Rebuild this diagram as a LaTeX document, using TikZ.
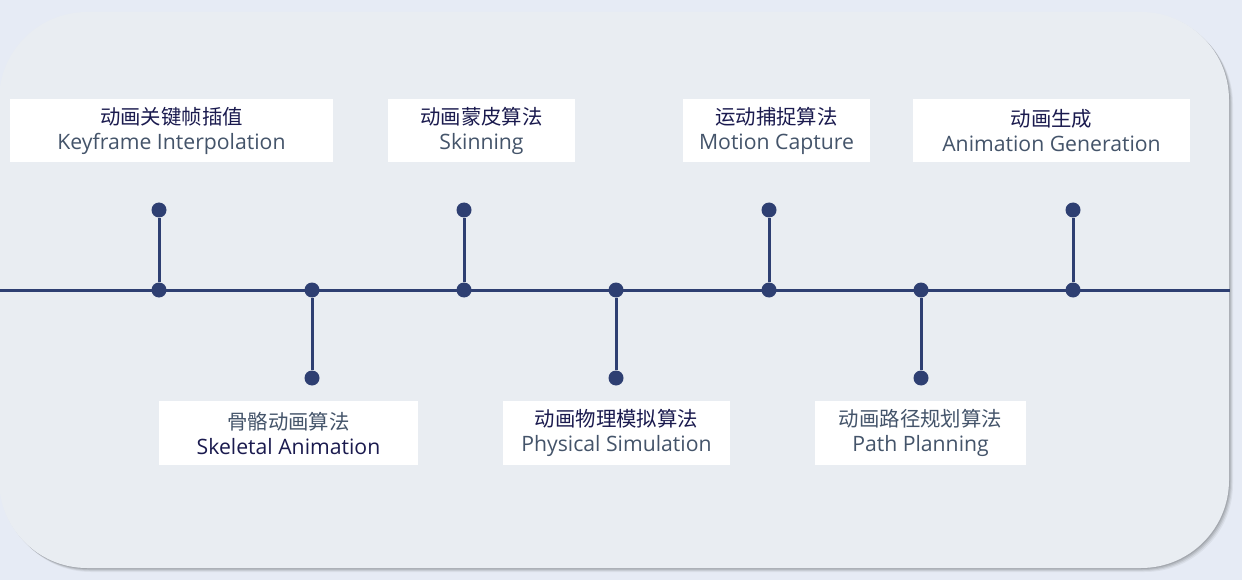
\documentclass[tikz,border=0pt]{standalone}
\usepackage{fontspec}
\setmainfont{Open Sans}
\newfontfamily\cjk{Noto Sans CJK SC}
\definecolor{pagebg}{HTML}{E6EBF5}
\definecolor{panelbg}{HTML}{E9EDF2}
\definecolor{axisblue}{HTML}{2E3F72}
\definecolor{ink}{HTML}{1A1A4E}
\definecolor{slate}{HTML}{44546A}
\tikzset{
  labelbox/.style={fill=white, inner sep=0pt, align=center,
    font=\fontsize{21}{25}\selectfont},
  dot/.style={circle, fill=axisblue, inner sep=0pt, minimum size=15pt},
  axisline/.style={draw=axisblue, line width=3pt},
}
\newcommand{\zh}[2]{{\cjk\fontsize{20.4}{25}\selectfont\color{#1}#2}}
\newcommand{\en}[2]{{\fontsize{21.2}{25}\selectfont\color{#1}#2}}
\begin{document}
\begin{tikzpicture}[x=1pt,y=-1pt]
  \fill[pagebg] (0,0) rectangle (1242,580);
  \useasboundingbox (0,0) rectangle (1242,580);
  % soft shadow under the panel
  \foreach \s/\o in {4/0.05,3/0.07,2/0.09,1/0.1}
    \fill[black, opacity=\o, rounded corners=88pt] (-1+\s,12+\s) rectangle (1229+\s,568+\s);
  \fill[panelbg, rounded corners=88pt] (-1,12) rectangle (1229,568);

  % timeline
  \coordinate (tl) at (0,290);
  \coordinate (tr) at (1230,290);
  \draw[axisline] (tl) -- (tr);

  % dots on the axis and stem ends
  \foreach \n/\x/\y in {1/159/210, 2/312/378, 3/464/210, 4/616/378, 5/769/210, 6/921/378, 7/1073/210} {
    \node[dot] (d\n) at (\x,290) {};
    \node[dot] (e\n) at (\x,\y) {};
    \draw[axisline] (d\n) -- (e\n);
  }

  % labels above the axis
  \node[labelbox, minimum width=323pt, minimum height=63pt] (k1) at (171.5,130.5)
    {\zh{ink}{动画关键帧插值}\\\en{slate}{Keyframe Interpolation}};
  \node[labelbox, minimum width=187pt, minimum height=63pt] (k3) at (481.5,130.5)
    {\zh{ink}{动画蒙皮算法}\\\en{slate}{Skinning}};
  \node[labelbox, minimum width=187pt, minimum height=63pt] (k5) at (776.5,130.5)
    {\zh{ink}{运动捕捉算法}\\\en{slate}{Motion Capture}};
  \node[labelbox, minimum width=277pt, minimum height=63pt] (k7) at (1051.5,130.5)
    {\zh{ink}{动画生成}\\\en{slate}{Animation Generation}};

  % labels below the axis
  \node[labelbox, minimum width=259pt, minimum height=64pt] (k2) at (288.5,433)
    {\zh{slate}{骨骼动画算法}\\\en{ink}{Skeletal Animation}};
  \node[labelbox, minimum width=227pt, minimum height=64pt] (k4) at (616.5,433)
    {\zh{ink}{动画物理模拟算法}\\\en{slate}{Physical Simulation}};
  \node[labelbox, minimum width=211pt, minimum height=64pt] (k6) at (920.5,433)
    {\zh{slate}{动画路径规划算法}\\\en{slate}{Path Planning}};
\end{tikzpicture}
\end{document}
